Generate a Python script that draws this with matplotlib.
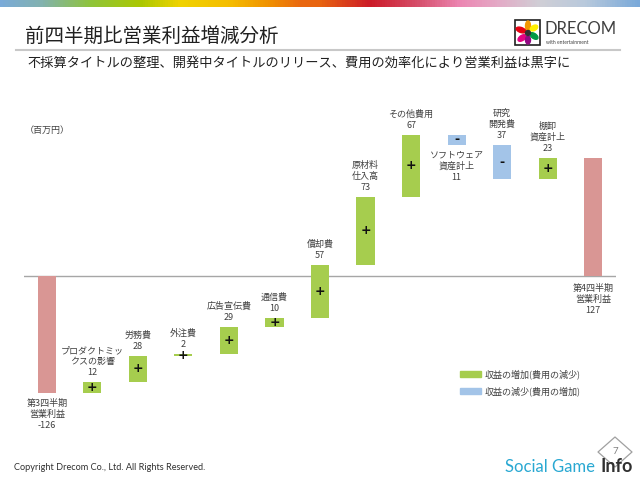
import numpy as np
import matplotlib
matplotlib.use("Agg")
import matplotlib.pyplot as plt
from matplotlib.colors import LinearSegmentedColormap
from matplotlib.patches import Rectangle, Ellipse, Polygon, Patch

plt.rcParams['font.family'] = ['Noto Sans CJK JP', 'DejaVu Sans']

# data (百万円)
names = ['第3四半期\n営業利益', 'プロダクトミッ\nクスの影響', '労務費', '外注費', '広告宣伝費',
         '通信費', '償却費', '原材料\n仕入高', 'その他費用', 'ソフトウェア\n資産計上',
         '研究\n開発費', '棚卸\n資産計上', '第4四半期\n営業利益']
values = [-126, 12, 28, 2, 29, 10, 57, 73, 67, -11, -37, 23, 127]
is_total = [True] + [False] * 11 + [True]

GREEN = '#a6cd4e'
BLUE = '#a3c4e8'
PINK = '#d99694'
TXT = '#404040'

fig = plt.figure(figsize=(6.4, 4.8), dpi=100)

# slide decoration in pixel coordinates
bg = fig.add_axes([0, 0, 1, 1])
bg.set_xlim(0, 640)
bg.set_ylim(480, 0)
bg.axis('off')

stops = [(0.0, '#7aaad8'), (0.0625, '#82b2b0'), (0.14, '#8fc43a'), (0.22, '#acc800'),
         (0.28, '#f0d300'), (0.36, '#f5bc00'), (0.42, '#f09000'), (0.47, '#ea6810'),
         (0.5, '#e8640f'), (0.58, '#cc1a28'), (0.656, '#d6506c'), (0.72, '#ec86b2'),
         (0.78, '#e4aac6'), (0.845, '#d0cfd6'), (0.917, '#b8c9dc'), (1.0, '#7aa9d9')]
cmap = LinearSegmentedColormap.from_list('band', stops)
bg.imshow(np.linspace(0, 1, 640)[None, :], cmap=cmap, aspect='auto', extent=(0, 640, 7, 0))

bg.text(25, 36, '前四半期比営業利益増減分析', fontsize=14, color='#202020', va='center')
bg.plot([16, 620], [50, 50], color='#c8c8c8', lw=1.5)
bg.text(27, 63, '不採算タイトルの整理、開発中タイトルのリリース、費用の効率化により営業利益は黒字に',
        fontsize=9.5, color='#202020', va='center')

# logo
bg.add_patch(Rectangle((515, 20), 25, 25, fill=False, ec='#202020', lw=1.2))
for cx, cy, w, h, ang, c in [(528, 26, 5, 10, 0, '#f39800'), (521, 30, 10, 5, 20, '#e60012'),
                             (522, 38, 9, 5, -35, '#e4007f'), (528, 40, 5, 8, 0, '#920783'),
                             (534, 36, 9, 5, 35, '#009944'), (534, 28, 8, 5, -30, '#fff100')]:
    bg.add_patch(Ellipse((cx, cy), w, h, angle=ang, color=c))
bg.add_patch(Ellipse((528, 33), 5, 5, color='#303030'))
bg.text(544, 29, 'DRECOM', fontsize=12, family='Lato', color='#404040', va='center')
bg.text(546, 43, 'with entertainment', fontsize=3.6, family='Lato', color='#404040', va='center')

bg.text(25, 130, '（百万円）', fontsize=6.5, color=TXT, va='center')

bg.text(14, 468, 'Copyright Drecom Co., Ltd. All Rights Reserved.', fontsize=6.6,
        family='Lato', color='#303030', va='center')

bg.add_patch(Polygon([(615, 437), (632, 452), (615, 467), (598, 452)], closed=True,
                     fill=True, fc='white', ec='#a0a0a0', lw=0.9, joinstyle='round'))
bg.text(615, 452, '7', fontsize=7, family='Lato', color='#808080', ha='center', va='center')
bg.text(505, 467, 'Social Game', fontsize=12, family='Lato', color='#29a8d2', va='center')
bg.text(633, 467, 'Info', fontsize=13, family='Lato', weight='bold', color='#303030',
        ha='right', va='center')

# waterfall chart
ax = fig.add_axes([24 / 640, 64.5 / 480, 592 / 640, 325.5 / 480])
ax.set_facecolor('none')
ax.set_xlim(-0.5, len(values) - 0.5)
ax.set_ylim(-150, 200)
ax.axis('off')
ax.axhline(0, color='#a6a6a6', lw=1, zorder=1)

x = np.arange(len(values))
running = 0
bottoms, heights, colors = [], [], []
for v, tot in zip(values, is_total):
    if tot:
        bottoms.append(min(0, v))
        heights.append(abs(v))
        colors.append(PINK)
        running = v
    else:
        start = running
        running += v
        bottoms.append(min(start, running))
        heights.append(abs(v))
        colors.append(GREEN if v > 0 else BLUE)
ax.bar(x, heights, bottom=bottoms, width=0.4, color=colors, zorder=2)

label_side = ['below'] + ['above'] * 8 + ['below', 'above', 'above', 'below']
for i, (n, v, tot) in enumerate(zip(names, values, is_total)):
    lo = bottoms[i]
    hi = bottoms[i] + heights[i]
    txt = f'{n}\n{v if tot else abs(v)}'
    if label_side[i] == 'above':
        ax.annotate(txt, (x[i], hi), xytext=(0, 3.5), textcoords='offset points',
                    ha='center', va='bottom', fontsize=6.5, color=TXT,
                    linespacing=1.3, annotation_clip=False)
    else:
        off = -5.5 if tot and v > 0 else -4
        ax.annotate(txt, (x[i], lo), xytext=(0, off), textcoords='offset points',
                    ha='center', va='top', fontsize=6.5, color=TXT,
                    linespacing=1.3, annotation_clip=False)
    if not tot:
        ax.text(x[i], lo + heights[i] / 2, '+' if v > 0 else '-', ha='center', va='center',
                fontsize=9, weight='bold', family='DejaVu Sans', color='#111111', zorder=3)

handles = [Patch(color=GREEN), Patch(color=BLUE)]
fig.legend(handles, ['収益の増加(費用の減少)', '収益の減少(費用の増加)'],
           loc='upper left', bbox_to_anchor=(455 / 640, 1 - 365 / 480), frameon=False,
           fontsize=6.5, handlelength=2.4, handleheight=0.7, handletextpad=0.4,
           labelspacing=0.75, borderpad=0, labelcolor=TXT)

fig.savefig('out.png', dpi=100)
